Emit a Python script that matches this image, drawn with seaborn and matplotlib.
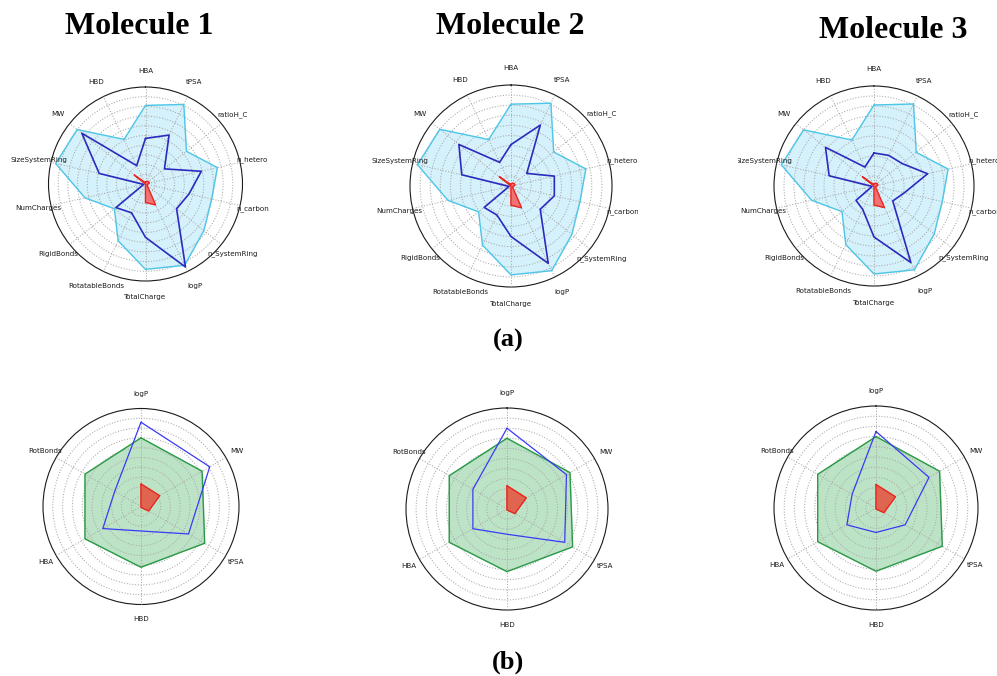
#!usr/bin/env python3

"""
Radar charts of molecular descriptors against lower/upper limits
"""

import numpy as np
import seaborn as sns
import matplotlib.pyplot as plt
from matplotlib.transforms import Bbox, TransformedBbox

# top row: 14 descriptors, values scaled to the outer ring
top_labels = ["HBA", "tPSA", "ratioH_C", "n_hetero", "n_carbon", "n_SystemRing", "logP",
              "TotalCharge", "RotatableBonds", "RigidBonds", "NumCharges", "SizeSystemRing",
              "MW", "HBD"]
top_upper = [0.81, 0.91, 0.54, 0.76, 0.70, 0.77, 0.93, 0.88, 0.65, 0.41, 0.64, 0.95, 0.90, 0.51]
top_lower = [0.02, 0.03, 0.04, 0.04, 0.02, 0.02, 0.24, 0.19, 0.0, 0.0, 0.0, 0.0, 0.15, 0.02]
top_mol1 = [0.47, 0.56, 0.25, 0.59, 0.46, 0.41, 0.95, 0.55, 0.33, 0.39, 0.02, 0.49, 0.84, 0.21]
top_mol2 = [0.41, 0.67, 0.20, 0.44, 0.44, 0.37, 0.85, 0.50, 0.32, 0.34, 0.02, 0.50, 0.66, 0.26]
top_mol3 = [0.33, 0.34, 0.36, 0.55, 0.31, 0.24, 0.85, 0.51, 0.26, 0.23, 0.02, 0.46, 0.62, 0.21]

# bottom row: 6 descriptors
bot_labels = ["logP", "MW", "tPSA", "HBD", "HBA", "RotBonds"]
bot_upper = [0.70, 0.72, 0.75, 0.62, 0.66, 0.66]
bot_lower = [0.23, 0.22, 0.09, 0.01, 0.0, 0.0]
bot_mol1 = [0.86, 0.81, 0.56, 0.25, 0.45, 0.31]
bot_mol2 = [0.80, 0.68, 0.66, 0.25, 0.39, 0.39]
bot_mol3 = [0.75, 0.60, 0.33, 0.24, 0.33, 0.27]

titles = ["Molecule 1", "Molecule 2", "Molecule 3"]

W, H = 997, 676

sns.set_theme(style="white")
plt.rcParams['font.family'] = ['DejaVu Sans']

fig = plt.figure(figsize=(W / 100, H / 100), dpi=100)
fig.patch.set_facecolor("white")


def add_polar(cx, cy, r):
    """Polar axes centred at pixel (cx, cy) with radius r"""
    ax = fig.add_axes([(cx - r) / W, 1 - (cy + r) / H, 2 * r / W, 2 * r / H],
                      projection="polar")
    ax.set_theta_offset(np.pi / 2)
    ax.set_theta_direction(-1)
    ax.set_ylim(0, 1)
    ax.set_yticks(np.arange(0.1, 1.0, 0.1))
    ax.set_yticklabels([])
    ax.set_facecolor("white")
    # grid drawn over the filled areas, like the original
    ax.set_axisbelow(False)
    ax.grid(True, color="#a8a8a8", linestyle=":", linewidth=0.75)
    ax.spines["polar"].set_color("#1a1a1a")
    ax.spines["polar"].set_linewidth(0.8)
    ax.tick_params(length=0)
    return ax


def closed(vals):
    return list(vals) + [vals[0]]


def draw_radar(ax, labels, upper, lower, mol, style, crop=None):
    n = len(labels)
    ang = np.linspace(0, 2 * np.pi, n, endpoint=False)
    ang_c = closed(ang)
    ax.set_xticks(ang)
    ax.set_xticklabels([])

    ax.fill(ang_c, closed(upper), color=style["up_fill"], zorder=2)
    ax.plot(ang_c, closed(upper), color=style["up_edge"], lw=1.0, zorder=3)
    ax.fill(ang_c, closed(lower), color=style["lo_fill"], zorder=4)
    ax.plot(ang_c, closed(lower), color="#e8251f", lw=0.9, zorder=5)
    ax.plot(ang_c, closed(mol), color=style["mol"], lw=style["mol_lw"], zorder=6)

    for a, lab in zip(ang, labels):
        rl = style["lab_r"] + 0.05 * abs(np.cos(a))
        t = ax.text(a, rl, lab, ha="center", va="center", fontsize=5.1, color="#1a1a1a")
        t.set_clip_path(None)
        if crop is not None:
            # the panels of the original were cropped, cutting a few labels
            box = Bbox.from_extents(crop[0] / W, 0, crop[1] / W, 1)
            t.set_clip_box(TransformedBbox(box, fig.transFigure))
            t.set_clip_on(True)
        else:
            t.set_clip_on(False)


top_style = dict(up_fill="#d5f1fb", up_edge="#4fc6e8", lo_fill="#f07272",
                 mol="#2b2bbf", mol_lw=1.2, lab_r=1.12)
bot_style = dict(up_fill="#bde3c7", up_edge="#2a9a48", lo_fill="#df6550",
                 mol="#3a3af5", mol_lw=0.9, lab_r=1.10)

top_pos = [(145.5, 184, 97), (511, 186, 101), (874, 186, 100)]
top_crop = [(11, 270), (368, 638), (738, 997)]
bot_pos = [(141, 506.5, 98), (507, 509, 101), (876, 508, 102)]

top_mols = [top_mol1, top_mol2, top_mol3]
bot_mols = [bot_mol1, bot_mol2, bot_mol3]

for (cx, cy, r), crop, mol in zip(top_pos, top_crop, top_mols):
    ax = add_polar(cx, cy, r)
    draw_radar(ax, top_labels, top_upper, top_lower, mol, top_style, crop)

for (cx, cy, r), mol in zip(bot_pos, bot_mols):
    ax = add_polar(cx, cy, r)
    draw_radar(ax, bot_labels, bot_upper, bot_lower, mol, bot_style)

# titles and panel letters
title_pos = [(139, 27), (510, 27), (893, 31)]
for (x, y), s in zip(title_pos, titles):
    fig.text(x / W, 1 - y / H, s, ha="center", va="center", fontsize=23,
             fontweight="bold", family="Liberation Serif", color="black")

fig.text(508 / W, 1 - 340 / H, "(a)", ha="center", va="center", fontsize=19,
         fontweight="bold", family="Liberation Serif", color="black")
fig.text(508 / W, 1 - 662 / H, "(b)", ha="center", va="center", fontsize=19,
         fontweight="bold", family="Liberation Serif", color="black")

plt.savefig("out.png", dpi=100)
